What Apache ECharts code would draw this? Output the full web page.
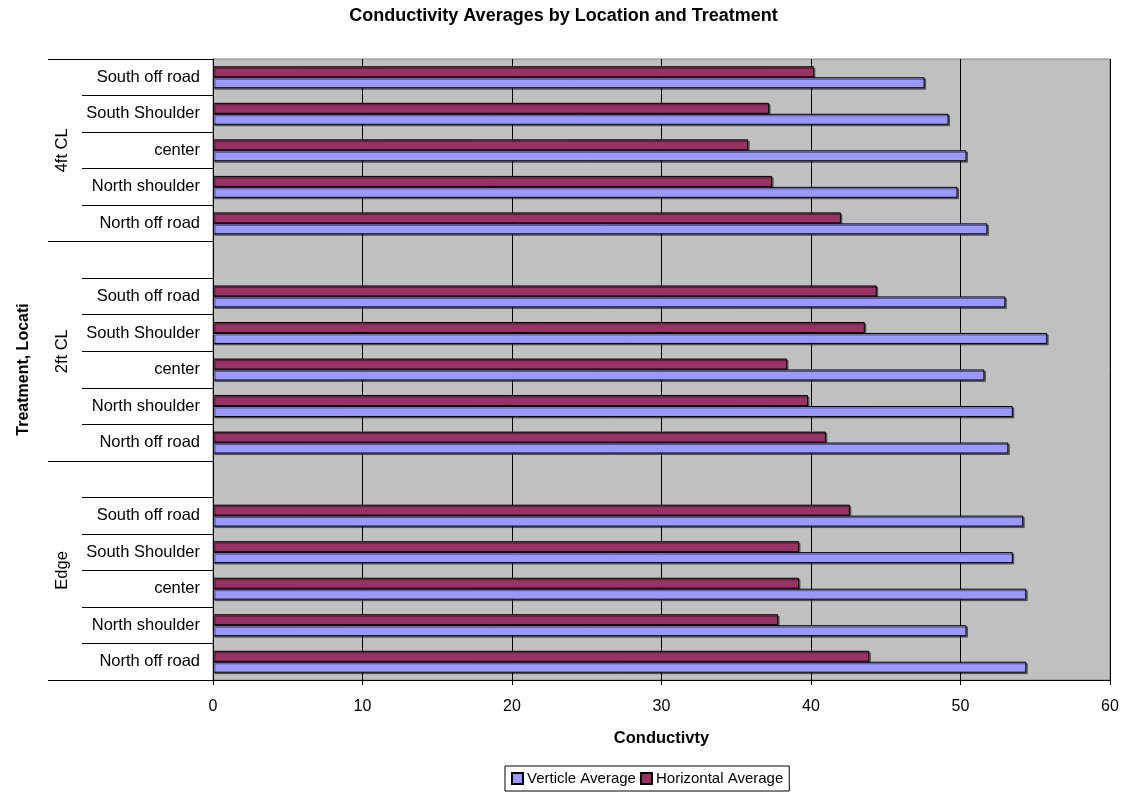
<!DOCTYPE html>
<html>
<head>
<meta charset="utf-8">
<script src="https://cdn.jsdelivr.net/npm/echarts@6/dist/echarts.min.js"></script>
<style>
html,body{margin:0;padding:0;background:#fff;}
#chart{width:1127px;height:794px;}
</style>
</head>
<body>
<div id="chart"></div>
<script>
// ---- data (bottom to top) ----
var groups = ['Edge', '2ft CL', '4ft CL'];
var locations = ['North off road', 'North shoulder', 'center', 'South Shoulder', 'South off road'];
var verticleEdge = [54.4, 50.4, 54.4, 53.5, 54.2];
var verticle2ft  = [53.2, 53.5, 51.6, 55.8, 53.0];
var verticle4ft  = [51.8, 49.8, 50.4, 49.2, 47.6];
var horizontalEdge = [43.9, 37.8, 39.2, 39.2, 42.6];
var horizontal2ft  = [41.0, 39.8, 38.4, 43.6, 44.4];
var horizontal4ft  = [42.0, 37.4, 35.8, 37.2, 40.2];
var xTicks = [0, 10, 20, 30, 40, 50, 60];

// ---- build category list with blank separators ----
var verticleByGroup = [verticleEdge, verticle2ft, verticle4ft];
var horizontalByGroup = [horizontalEdge, horizontal2ft, horizontal4ft];
var categories = [], vData = [], hData = [];
var groupStart = [], groupCenter = [];
groups.forEach(function (g, gi) {
  groupStart.push(categories.length);
  locations.forEach(function (loc, li) {
    categories.push(g + '|' + loc);
    vData.push(verticleByGroup[gi][li]);
    hData.push(horizontalByGroup[gi][li]);
  });
  if (gi < groups.length - 1) {
    categories.push(g + '|');
    vData.push('-');
    hData.push('-');
  }
});
var groupBounds = groupStart.concat([categories.length]);
for (var i = 0; i < groups.length; i++) groupCenter.push((groupBounds[i] + groupBounds[i + 1]) / 2);

var FONT = '"Liberation Sans", Arial, sans-serif';
var chart = echarts.init(document.getElementById('chart'), null, {renderer: 'canvas'});
var barStyle = function (c) {
  return {
    color: c, borderColor: '#000', borderWidth: 1,
    shadowColor: 'rgba(0,0,0,0.45)', shadowOffsetX: 1.5, shadowOffsetY: 1.5, shadowBlur: 0
  };
};
chart.setOption({
  animation: false,
  backgroundColor: '#fff',
  textStyle: {fontFamily: FONT},
  title: {
    text: 'Conductivity Averages by Location and Treatment',
    left: 'center', top: 7, padding: 0,
    textStyle: {fontFamily: FONT, fontSize: 18, fontWeight: 'bold', color: '#000'}
  },
  legend: {
    data: ['Verticle Average', 'Horizontal Average'],
    left: 505, top: 766,
    borderColor: '#000', borderWidth: 1, borderRadius: 0,
    padding: [5, 6, 5, 6],
    itemWidth: 11, itemHeight: 11, itemGap: 4,
    icon: 'rect',
    textStyle: {fontFamily: FONT, fontSize: 15, color: '#000', padding: [0, 0, 0, -1]}
  },
  grid: {
    left: 213, right: 17, top: 59, bottom: 114,
    show: true, backgroundColor: '#c0c0c0', borderColor: '#808080', borderWidth: 1
  },
  xAxis: {
    type: 'value', min: xTicks[0], max: xTicks[xTicks.length - 1], interval: 10,
    axisLine: {show: true, lineStyle: {color: '#000', width: 1}},
    axisTick: {show: true, length: 5, lineStyle: {color: '#000'}},
    axisLabel: {fontFamily: FONT, fontSize: 16, color: '#000', margin: 19},
    splitLine: {show: true, lineStyle: {color: '#000', width: 1}},
    name: 'Conductivty', nameLocation: 'middle', nameGap: 50,
    nameTextStyle: {fontFamily: FONT, fontSize: 16.5, fontWeight: 'bold', color: '#000'}
  },
  yAxis: [
    {
      type: 'category', data: categories, position: 'left',
      axisLine: {show: true, lineStyle: {color: '#000', width: 1}},
      axisTick: {show: true, length: 131, interval: 0, lineStyle: {color: '#000', width: 1}},
      axisLabel: {
        interval: 0, margin: 13, fontFamily: FONT, fontSize: 16.5, color: '#000',
        formatter: function (v) { return v.split('|')[1]; }
      },
      splitLine: {show: false},
      name: 'Treatment, Locati', nameLocation: 'middle', nameGap: 181,
      nameTextStyle: {fontFamily: FONT, fontSize: 16, fontWeight: 'bold', color: '#000'}
    },
    {
      type: 'value', min: 0, max: categories.length, position: 'left',
      axisLine: {show: false},
      axisTick: {show: true, length: 165, customValues: groupBounds, lineStyle: {color: '#000', width: 1}},
      axisLabel: {
        customValues: groupCenter, rotate: 90, margin: 142,
        fontFamily: FONT, fontSize: 16.5, color: '#000',
        formatter: function (v) {
          var idx = groupCenter.indexOf(v);
          return idx >= 0 ? groups[idx] : '';
        }
      },
      splitLine: {show: false}
    }
  ],
  series: [
    {
      name: 'Horizontal Average', type: 'bar', yAxisIndex: 0,
      data: hData, barCategoryGap: '40%', barGap: '0%',
      itemStyle: barStyle('#993366')
    },
    {
      name: 'Verticle Average', type: 'bar', yAxisIndex: 0,
      data: vData, barCategoryGap: '40%', barGap: '0%',
      itemStyle: barStyle('#9999ff')
    }
  ]
});
</script>
</body>
</html>
